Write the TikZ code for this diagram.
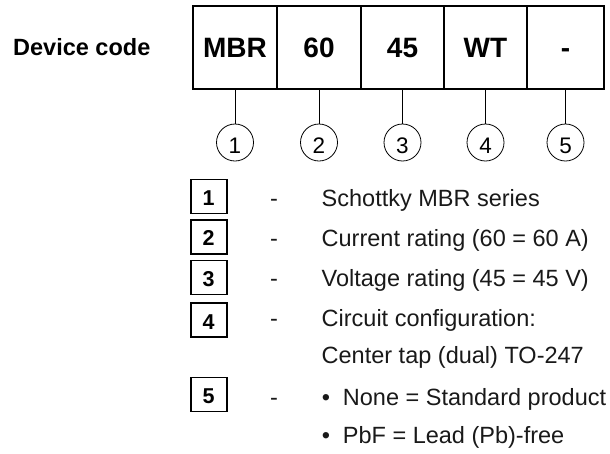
\documentclass[tikz,border=0pt]{standalone}
\usepackage{fontspec}
\setmainfont{Liberation Sans}
\begin{document}
\begin{tikzpicture}[x=1pt,y=-1pt,
  cell/.style={draw, line width=1.1pt, minimum height=83pt, inner sep=0pt,
    font=\fontsize{28}{30}\selectfont\bfseries, text height=20pt, text depth=0pt},
  frame/.style={draw, line width=1.8pt},
  numcirc/.style={circle, draw, line width=0.8pt, minimum size=37pt, inner sep=0pt,
    font=\fontsize{22.5}{24}\selectfont, text height=16.1pt, text depth=0pt},
  conn/.style={draw, line width=0.8pt},
  lbox/.style={draw, line width=1.6pt, minimum width=36pt, minimum height=34pt, inner sep=0pt,
    font=\fontsize{21.5}{23}\selectfont\bfseries, text height=15.4pt, text depth=0pt},
  ltxt/.style={anchor=base west, inner sep=0pt, text=black!90,
    font=\fontsize{23.5}{26}\selectfont},
  ldash/.style={anchor=base, inner sep=0pt, text=black!90,
    font=\fontsize{23.5}{26}\selectfont}
]
\useasboundingbox (0,0) rectangle (610,453);

% device code label
\node[anchor=base west, inner sep=0pt, font=\fontsize{23.5}{26}\selectfont\bfseries] (dc) at (13,55) {Device code};

% cells
\node[cell, minimum width=84pt] (c1) at (235,47.5) {MBR};
\node[cell, minimum width=84pt] (c2) at (319,47.5) {60};
\node[cell, minimum width=83pt] (c3) at (402.5,47.5) {45};
\node[cell, minimum width=83pt] (c4) at (485.5,47.5) {WT};
\node[cell, minimum width=77pt] (c5) at (565.5,47.5) {-};
\draw[frame] (c1.north west) rectangle (c5.south east);

% numbered circles
\node[numcirc] (n1) at (235,142.5) {\raisebox{-3pt}{1}};
\node[numcirc] (n2) at (319,142.5) {\raisebox{-3pt}{2}};
\node[numcirc] (n3) at (402.5,142.5) {\raisebox{-3pt}{3}};
\node[numcirc] (n4) at (485.5,142.5) {\raisebox{-3pt}{4}};
\node[numcirc] (n5) at (565.5,142.5) {\raisebox{-3pt}{5}};
\foreach \i in {1,...,5} \draw[conn] (c\i.south) -- (n\i.north);

% legend boxes
\node[lbox] (l1) at (208.7,196.3) {\raisebox{-1.5pt}{1}};
\node[lbox] (l2) at (208.7,236.7) {\raisebox{-1.5pt}{2}};
\node[lbox] (l3) at (208.7,277.3) {\raisebox{-1.5pt}{3}};
\node[lbox] (l4) at (208.7,320) {\raisebox{-1.5pt}{4}};
\node[lbox] (l5) at (208.7,394.5) {\raisebox{-1.5pt}{5}};

% dashes
\node[ldash] (d1) at (274,206) {-};
\node[ldash] (d2) at (274,246) {-};
\node[ldash] (d3) at (274,286.7) {-};
\node[ldash] (d4) at (274,326.7) {-};
\node[ldash] (d5) at (274,405) {-};

% descriptions
\node[ltxt] (t1) at (321.5,206) {Schottky MBR series};
\node[ltxt] (t2) at (321.5,246) {Current rating (60 = 60 A)};
\node[ltxt] (t3) at (321.5,286.7) {Voltage rating (45 = 45 V)};
\node[ltxt] (t4) at (321.5,326.7) {Circuit configuration:};
\node[ltxt] (t4b) at (321.5,363.5) {Center tap (dual) TO-247};
\node[ldash] (b1) at (326,405) {\textbullet};
\node[ltxt] (t5) at (342.7,405) {None = Standard product};
\node[ldash] (b2) at (326,443.3) {\textbullet};
\node[ltxt] (t6) at (342.7,443.3) {PbF = Lead (Pb)-free};
\end{tikzpicture}
\end{document}
